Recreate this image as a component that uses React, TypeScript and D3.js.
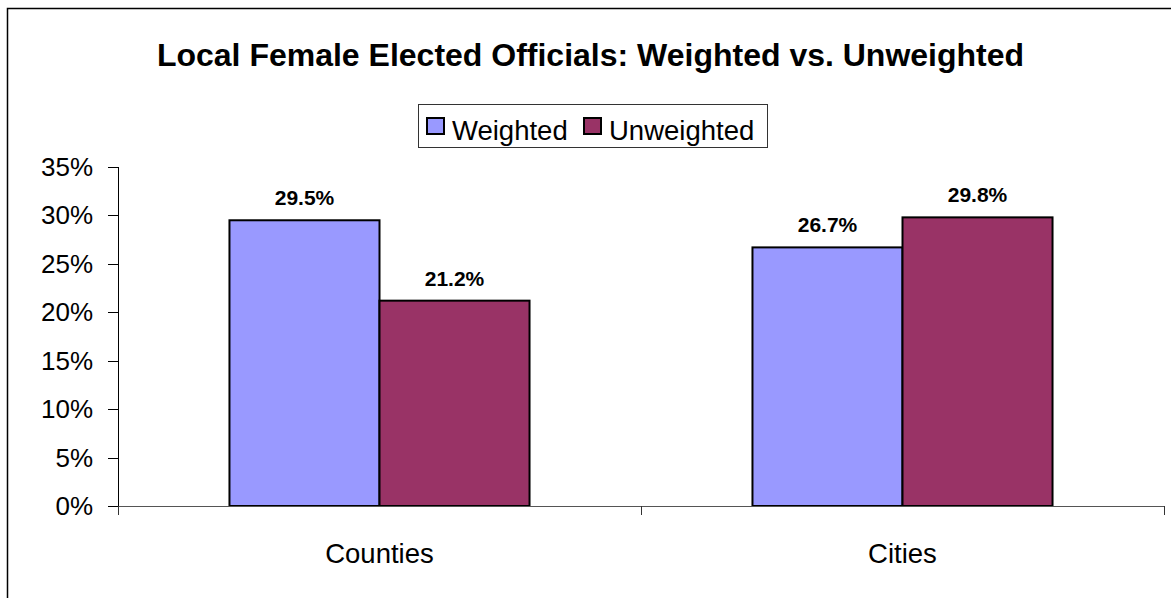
import React from "react";
import * as d3 from "d3";

const categories = ["Counties", "Cities"];
const seriesNames = ["Weighted", "Unweighted"];
const weighted = [29.5, 26.7];
const unweighted = [21.2, 29.8];
const yTicks = [0, 5, 10, 15, 20, 25, 30, 35];
const seriesColors = ["#9999FF", "#993366"];
const title = "Local Female Elected Officials: Weighted vs. Unweighted";

const W = 1171;
const H = 598;
const FONT = "'Liberation Sans', Arial, sans-serif";

export default function App() {
  const left = 118, right = 1164, top = 167, bottom = 506;
  const x = d3.scaleBand<string>().domain(categories).range([left, right]).paddingInner(0).paddingOuter(0);
  const xs = d3.scaleBand<string>().domain(seriesNames).range([0, x.bandwidth()]).paddingInner(0).paddingOuter(0.743);
  const y = d3.scaleLinear().domain([0, 35]).range([bottom, top]);
  const values = [weighted, unweighted];

  return (
    <svg width={W} height={H} style={{ position: "absolute", left: 0, top: 0, background: "#fff" }}>
      <rect x={0} y={0} width={W} height={H} fill="#fff" />
      {/* outer chart border (clipped) */}
      <path d={`M7.5,${H + 5}V8.5H${W + 5}`} fill="none" stroke="#000" strokeWidth={1.5} />
      <text x={590.5} y={66} textAnchor="middle" fontFamily={FONT} fontWeight="bold" fontSize={32}>
        {title}
      </text>
      {/* legend */}
      <rect x={418.5} y={104.5} width={349} height={43} fill="#fff" stroke="#333" strokeWidth={1} />
      {seriesNames.map((s, i) => {
        const sx = i === 0 ? 427 : 584;
        return (
          <g key={s}>
            <rect x={sx} y={118} width={17} height={16} fill={seriesColors[i]} stroke="#000" strokeWidth={2} />
            <text x={sx + 25} y={140} fontFamily={FONT} fontSize={27.5}>{s}</text>
          </g>
        );
      })}
      {/* bars */}
      {categories.map((c, ci) =>
        seriesNames.map((s, si) => {
          const v = values[si][ci];
          const bx = (x(c) as number) + (xs(s) as number);
          const bw = xs.bandwidth();
          return (
            <g key={c + s}>
              <rect x={bx} y={y(v)} width={bw} height={y(0) - y(v)} fill={seriesColors[si]} stroke="#000" strokeWidth={2} />
              <text x={bx + bw / 2} y={y(v) - 15} textAnchor="middle" fontFamily={FONT} fontWeight="bold" fontSize={21}>
                {v.toFixed(1)}%
              </text>
            </g>
          );
        })
      )}
      {/* y axis */}
      <line x1={left + 0.5} x2={left + 0.5} y1={top} y2={bottom} stroke="#000" strokeWidth={1} />
      {yTicks.map((t) => (
        <g key={t}>
          <line x1={108} x2={left} y1={Math.round(y(t)) + 0.5} y2={Math.round(y(t)) + 0.5} stroke="#000" strokeWidth={1} />
          <text x={93} y={y(t) + 9} textAnchor="end" fontFamily={FONT} fontSize={26}>
            {t}%
          </text>
        </g>
      ))}
      {/* x axis */}
      <line x1={left} x2={right} y1={bottom + 0.5} y2={bottom + 0.5} stroke="#555" strokeWidth={1.2} />
      {[left, left + x.step(), right].map((tx, i) => (
        <line key={i} x1={Math.round(tx) + 0.5} x2={Math.round(tx) + 0.5} y1={bottom} y2={bottom + 9} stroke="#333" strokeWidth={1} />
      ))}
      {categories.map((c) => (
        <text key={c} x={(x(c) as number) + x.bandwidth() / 2} y={563} textAnchor="middle" fontFamily={FONT} fontSize={27.5}>
          {c}
        </text>
      ))}
    </svg>
  );
}
